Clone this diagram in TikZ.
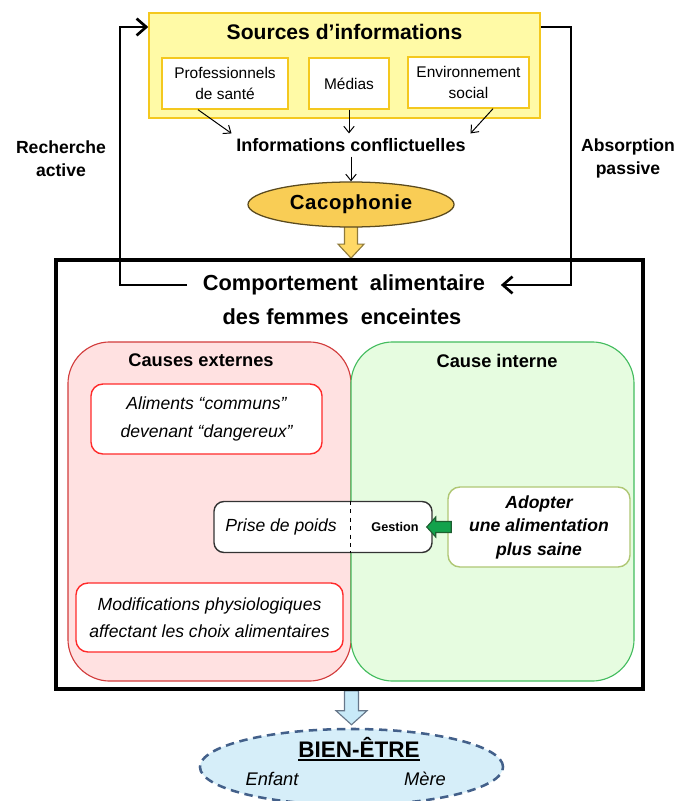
\documentclass[tikz,border=0pt]{standalone}
\usepackage{fontspec}
\setmainfont{Liberation Sans}
\usetikzlibrary{calc,arrows.meta,shapes.geometric,backgrounds}
\definecolor{sourceFill}{HTML}{FFFAA6}
\definecolor{sourceEdge}{HTML}{F4C81E}
\definecolor{cacoFill}{HTML}{F9CD55}
\definecolor{cacoEdge}{HTML}{5A4A1E}
\definecolor{cacoArrow}{HTML}{FFD966}
\definecolor{cacoArrowEdge}{HTML}{8F7A3A}
\definecolor{externeFill}{HTML}{FFE1E1}
\definecolor{externeEdge}{HTML}{D23C3C}
\definecolor{externeBox}{HTML}{FF2A2A}
\definecolor{interneFill}{HTML}{E6FCE0}
\definecolor{interneEdge}{HTML}{43BC5E}
\definecolor{adopterEdge}{HTML}{AFC774}
\definecolor{gestionArrow}{HTML}{12A24C}
\definecolor{gestionEdge}{HTML}{1D5E30}
\definecolor{bienFill}{HTML}{D6EEF9}
\definecolor{bienEdge}{HTML}{43608A}
\definecolor{bienArrow}{HTML}{C8EAF8}
\definecolor{bienArrowEdge}{HTML}{66778A}

\begin{document}
\begin{tikzpicture}[
  x=0.025cm,y=-0.025cm,
  srcitem/.style={draw=sourceEdge,fill=white,line width=1pt,minimum height=1.275cm,align=center,inner sep=0pt,font=\fontsize{11}{15}\selectfont},
  region/.style={line width=0.8pt,rounded corners=1.05cm,minimum width=7.075cm,minimum height=8.475cm},
  causebox/.style={draw=externeBox,fill=white,line width=1pt,rounded corners=0.3cm,align=center,font=\fontsize{12.5}{20}\selectfont\itshape},
  headtext/.style={font=\fontsize{13}{16}\selectfont\bfseries},
  sidetext/.style={align=center,font=\fontsize{12.5}{16.5}\selectfont\bfseries},
  comptext/.style={inner xsep=11pt,font=\fontsize{15.5}{19}\selectfont\bfseries},
  thinarr/.style={-{Straight Barb[length=1.6mm,width=2.6mm]},line width=0.7pt},
  loopline/.style={-{Straight Barb[length=2.4mm,width=4.2mm]},line width=1.9pt},
  blockarr/.style={line width=0.8pt,line join=miter}
]
\useasboundingbox (0,0) rectangle (688,801);

\node[draw=sourceEdge,fill=sourceFill,line width=1pt,minimum width=9.775cm,minimum height=2.625cm] (srcbox) at (344.5,65.5) {};
\node[font=\fontsize{15}{18}\selectfont\bfseries] (title) at (344.5,32) {Sources d’informations};
\node[srcitem,minimum width=3.15cm] (prof) at (225,83.5) {Professionnels\\de santé};
\node[srcitem,minimum width=2cm] (medias) at (349,83.5) {Médias};
\node[srcitem,minimum width=3.025cm] (env) at (468.5,82.5) {Environnement\\social};
\node[font=\fontsize{12.8}{15}\selectfont\bfseries] (infos) at (351,145) {Informations conflictuelles};
\node[ellipse,draw=cacoEdge,fill=cacoFill,line width=0.9pt,minimum width=5.15cm,minimum height=1.125cm,inner sep=0pt,font=\fontsize{14.5}{18}\selectfont\bfseries\addfontfeature{LetterSpace=3}] (caco) at (351,204.5) {Cacophonie};

\draw[thinarr] ($(prof.south)+(-27,0)$) -- (infos.north west);
\draw[thinarr] (medias.south) -- (medias.south |- infos.north);
\draw[thinarr] ($(env.south)+(24.5,0)$) -- (infos.north east);
\draw[thinarr] (infos.south) -- (caco.north);

\node[sidetext] (recherche) at (61,158.5) {Recherche\\active};
\node[sidetext] (absorption) at (628,158.5) {Absorption\\passive};

\node[draw,line width=2.6pt,minimum width=14.675cm,minimum height=10.725cm] (main) at (349.5,474.5) {};
\node[comptext] (comp) at (344,285) {Comportement \ alimentaire};
\node[comptext] (comptwo) at (342,317) {des femmes \ enceintes};

\coordinate (gauche) at (120,27);
\coordinate (droite) at (571,27);
\draw[loopline] (comp.west) -| (gauche) -- (gauche -| srcbox.west);
\draw[loopline] (droite -| srcbox.east) -- (droite) |- (comp.east);

\node[region,draw=externeEdge,fill=externeFill] (ext) at (209.5,511.5) {};
\node[region,draw=interneEdge,fill=interneFill] (int) at (492.5,511.5) {};
\node[headtext] (extlabel) at (201,360) {Causes externes};
\node[headtext] (intlabel) at (497,361) {Cause interne};

\node[causebox,minimum width=5.775cm,minimum height=1.75cm] (aliments) at (206.5,419) {Aliments “communs”\\devenant “dangereux”};
\node[causebox,minimum width=6.675cm,minimum height=1.725cm,font=\fontsize{12.5}{19}\selectfont\itshape] (modif) at (209.5,617.5) {Modifications physiologiques\\affectant les choix alimentaires};

\node[draw=black!80,fill=white,line width=1pt,rounded corners=0.25cm,minimum width=5.45cm,minimum height=1.275cm] (prise) at (323,527) {};
\node[font=\fontsize{12.5}{15}\selectfont\itshape] (poids) at (281,527) {Prise de poids};
\node[font=\fontsize{9}{11}\selectfont\bfseries] (gestion) at (395,527) {Gestion};
\draw[dashed,line width=0.8pt] (prise.north -| int.west) -- (prise.south -| int.west);

\node[draw=adopterEdge,fill=white,line width=1pt,rounded corners=0.3cm,minimum width=4.55cm,minimum height=2cm,align=center,font=\fontsize{12.5}{16.7}\selectfont\bfseries\itshape] (adopter) at (539,527) {Adopter\\une alimentation\\plus saine};

\draw[blockarr,draw=gestionEdge,fill=gestionArrow] ($(adopter.west)+(4,-5.5)$) -- ($(prise.east)+(3,-5.5)$) -- ($(prise.east)+(3,-10)$) -- ($(prise.east)+(-6,0)$) -- ($(prise.east)+(3,10)$) -- ($(prise.east)+(3,5.5)$) -- ($(adopter.west)+(4,5.5)$) -- cycle;

\node[ellipse,draw=bienEdge,fill=bienFill,line width=1.8pt,dash pattern=on 6pt off 4pt,minimum width=7.575cm,minimum height=1.9cm,inner sep=0pt] (bien) at (351.5,767) {};
\node[inner xsep=0pt,font=\fontsize{16}{19}\selectfont\bfseries] (bientitle) at (359,747) {BIEN-ÊTRE};
\draw[line width=1.4pt] ([yshift=-2pt]bientitle.base west) -- ([yshift=-2pt]bientitle.base east);
\node[font=\fontsize{13}{16}\selectfont\itshape] (enfant) at (272,779) {Enfant};
\node[font=\fontsize{13}{16}\selectfont\itshape] (mere) at (425,779) {Mère};

\begin{scope}[on background layer]
\draw[blockarr,draw=cacoArrowEdge,fill=cacoArrow] ($(caco.south)+(-6.5,-4)$) -- ($(caco.south |- main.north)+(-6.5,-14)$) -- ($(caco.south |- main.north)+(-13,-14)$) -- (caco.south |- main.north) -- ($(caco.south |- main.north)+(13,-14)$) -- ($(caco.south |- main.north)+(6.5,-14)$) -- ($(caco.south)+(6.5,-4)$) -- cycle;
\draw[blockarr,draw=bienArrowEdge,fill=bienArrow] ($(bien.north |- main.south)+(-7,0)$) -- ($(bien.north)+(-7,-17)$) -- ($(bien.north)+(-15.5,-17)$) -- ($(bien.north)+(0,-3)$) -- ($(bien.north)+(15.5,-17)$) -- ($(bien.north)+(7,-17)$) -- ($(bien.north |- main.south)+(7,0)$) -- cycle;
\end{scope}
\end{tikzpicture}
\end{document}
